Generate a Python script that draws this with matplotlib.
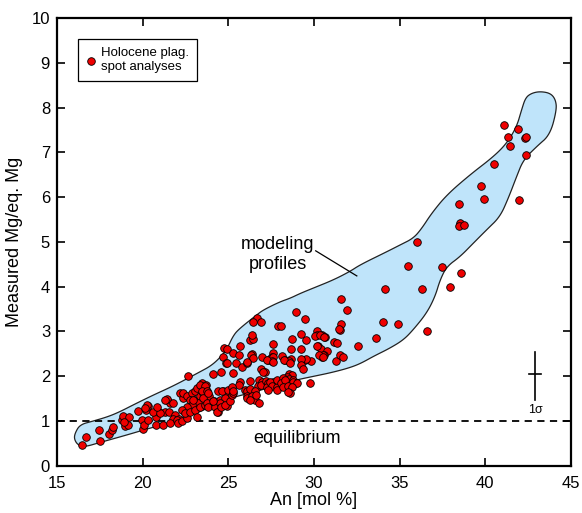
import numpy as np
import matplotlib
matplotlib.use("Agg")
import matplotlib.pyplot as plt

plt.rcParams["font.family"] = ["Liberation Sans", "DejaVu Sans"]

# plagioclase spot analyses: An [mol %] and measured Mg / equilibrium Mg
an = [
    16.44, 16.67, 17.51, 17.47, 18.04, 18.2, 18.25, 18.78, 18.87, 19.2, 18.99, 19.16, 19.75, 19.94, 18.91,
    20.2, 20.29, 20.04, 20.08, 20.3, 20.76, 20.76, 21.2, 20.97, 21.44, 21.6, 21.3, 21.55, 21.89, 22.12,
    21.79, 21.6, 21.99, 22.08, 20.62, 21.01, 21.4, 21.75, 20.27, 20.14, 21.3, 20.82, 22.18, 22.34, 22.28, 22.57,
    22.63, 22.38, 22.57, 22.86, 23.06, 23.19, 22.77, 23.0, 23.35, 23.54, 23.70, 23.25, 22.86, 22.57, 22.28,
    22.47, 22.77, 23.06, 23.35, 23.64, 23.78, 23.44, 23.7, 23.35, 23.64, 23.44, 23.78, 23.89, 23.5, 23.74,
    23.15, 22.96, 23.84, 23.84,
    24.17, 24.22, 24.42, 24.52, 24.71, 24.9, 24.81, 24.52, 24.9, 24.32, 24.56, 24.81, 25.1, 24.12, 24.42,
    24.61, 25.0, 25.2, 25.25, 24.08, 24.57, 24.71, 24.86, 24.75, 24.9, 24.9,
    25.29, 25.64, 25.45, 25.78, 25.29, 25.68, 25.64, 25.2, 25.29, 25.97, 25.68, 26.07, 26.07, 26.11, 26.07,
    26.69, 26.46, 26.91, 26.27, 26.46, 26.38, 26.37, 26.3, 26.42, 26.95, 26.11, 26.91, 26.27, 26.81, 26.95,
    26.75, 26.89, 26.27, 26.56, 26.37, 26.56, 26.27, 26.62, 26.81,
    27.92, 27.63, 27.34, 27.47, 27.63, 27.53, 27.59, 27.53, 27.28, 27.63, 27.14, 27.0, 27.2, 27.34, 27.59,
    27.82, 27.24, 27.43, 27.53, 27.82, 27.34, 27.86, 27.82,
    28.06, 28.97, 28.74, 28.66, 28.12, 28.66, 28.31, 28.56, 28.25, 28.6, 28.56, 28.7, 28.44, 28.56, 28.21,
    28.41, 28.76, 28.95, 28.17, 28.06, 28.31, 28.79, 28.99, 28.21, 28.5, 28.7, 28.6, 28.5,
    29.48, 29.52, 29.22, 29.24, 29.48, 29.81, 29.53, 29.22, 29.24, 29.34, 29.77,
    30.19, 30.45, 30.19, 30.64, 30.06, 30.35, 30.59, 30.25, 30.39, 30.74, 30.59, 30.45, 30.16, 30.51, 30.31,
    30.55, 31.52, 31.58, 31.91, 31.58, 31.48, 31.14, 31.33, 31.29, 31.52, 31.68,
    32.59, 33.6, 34.01, 34.92, 36.58, 34.13, 36.31, 37.96, 35.47, 37.48, 38.58, 36.02, 38.45, 38.54, 38.47,
    38.78, 39.77, 39.93, 41.95, 40.53, 41.08, 41.93, 41.33, 42.32, 42.40, 41.46, 42.38,
]
mg_ratio = [
    0.47, 0.65, 0.56, 0.79, 0.71, 0.8, 0.86, 1.03, 1.12, 1.09, 0.88, 0.90, 1.23, 1.03, 0.97,
    1.25, 1.34, 0.82, 0.92, 1.02, 1.09, 0.92, 0.92, 1.21, 1.47, 1.40, 1.21, 1.21, 1.14, 1.05,
    1.04, 0.95, 1.03, 0.95, 1.21, 1.19, 1.49, 1.40, 1.36, 1.29, 1.47, 1.32, 1.62, 1.51, 0.99, 1.06,
    2.01, 1.62, 1.55, 1.62, 1.66, 1.73, 1.47, 1.47, 1.55, 1.62, 1.70, 1.40, 1.36, 1.32, 1.25,
    1.18, 1.21, 1.25, 1.32, 1.36, 1.47, 1.85, 1.81, 1.81, 1.79, 1.66, 1.66, 1.55, 1.51, 1.40,
    1.10, 1.47, 1.32, 1.62,
    1.44, 1.32, 1.21, 1.47, 1.66, 1.62, 1.51, 1.40, 1.34, 1.21, 1.32, 1.36, 1.44, 1.44, 1.66,
    1.68, 1.70, 1.58, 1.62, 2.05, 2.10, 2.44, 2.29, 2.63, 2.60, 2.29,
    2.51, 2.48, 2.29, 2.20, 2.08, 1.88, 1.81, 1.76, 1.66, 1.70, 2.67, 2.30, 1.66, 1.55, 1.51,
    3.30, 3.22, 3.22, 2.81, 2.83, 2.92, 2.49, 2.47, 2.40, 2.44, 2.31, 2.17, 1.90, 1.92, 1.88,
    1.79, 1.81, 1.71, 1.68, 1.55, 1.47, 1.47, 1.57, 1.40,
    3.13, 2.73, 2.37, 2.40, 2.52, 2.44, 2.43, 2.33, 2.37, 2.31, 2.09, 2.10, 1.90, 1.85, 1.88,
    1.85, 1.76, 1.88, 1.79, 1.77, 1.70, 1.70, 1.92,
    3.13, 3.43, 2.83, 2.61, 2.46, 2.38, 2.37, 2.33, 2.37, 2.29, 2.05, 2.03, 1.99, 1.94, 1.96,
    1.83, 1.92, 1.86, 1.81, 1.86, 1.92, 1.88, 1.86, 1.76, 1.79, 1.76, 1.62, 1.64,
    3.27, 2.80, 2.95, 2.61, 2.37, 2.33, 2.38, 2.38, 2.25, 2.17, 1.85,
    3.02, 2.93, 2.91, 2.87, 2.90, 2.92, 2.87, 2.68, 2.60, 2.57, 2.48, 2.44, 2.67, 2.48, 2.48,
    2.43, 3.04, 3.72, 3.48, 3.16, 3.06, 2.76, 2.75, 2.33, 2.48, 2.44,
    2.67, 2.85, 3.21, 3.17, 3.00, 3.94, 3.94, 4.00, 4.47, 4.44, 4.30, 4.99, 5.84, 5.42, 5.36,
    5.37, 6.25, 5.96, 5.93, 6.75, 7.60, 7.53, 7.35, 7.31, 7.35, 7.15, 6.93,
]

# envelope of the modeling profiles (upper edge, then lower edge back)
env_an = [16.05, 16.34, 17.12, 18.0, 18.68, 19.5, 20.62, 21.6, 22.57, 23.35, 23.93, 24.4, 24.9,
          25.3, 25.7, 26.66, 27.04, 28.0, 28.6, 29.2, 29.97, 31.13, 32.1, 32.7, 34.25, 35.02,
          35.8, 36.29, 36.87, 37.75, 39.11, 40.47, 41.25, 41.83, 42.12, 42.35, 42.7, 43.2, 43.8,
          44.1, 44.17, 43.78, 43.0, 42.22, 41.83, 41.35, 40.86, 40.08, 39.3, 38.53, 37.75,
          37.36, 37.07, 36.58, 35.8, 35.22, 34.4, 33.5, 32.7, 32.0, 31.0, 30.0, 29.0, 28.0,
          27.0, 26.2, 25.2, 24.3, 23.3, 22.0, 20.5, 19.0, 17.5, 16.6, 16.2, 16.0]
env_mg = [0.73, 0.92, 1.0, 1.1, 1.21, 1.37, 1.58, 1.75, 1.94, 2.10, 2.22, 2.37, 2.59,
          2.92, 3.08, 3.37, 3.48, 3.66, 3.74, 3.85, 3.97, 4.15, 4.34, 4.49, 4.78, 4.93,
          5.08, 5.30, 5.64, 6.05, 6.50, 6.90, 7.20, 7.57, 7.95, 8.22, 8.32, 8.36, 8.32,
          8.18, 7.95, 7.39, 7.13, 6.83, 6.46, 5.98, 5.56, 5.27, 4.97, 4.67, 4.45,
          4.15, 3.78, 3.41, 3.04, 2.81, 2.62, 2.45, 2.28, 2.18, 2.08, 2.0, 1.92, 1.82,
          1.70, 1.62, 1.52, 1.38, 1.2, 1.0, 0.85, 0.68, 0.52, 0.42, 0.47, 0.6]


def chaikin(xs, ys, n=3):
    pts = np.column_stack([xs, ys])
    for _ in range(n):
        nxt = np.roll(pts, -1, axis=0)
        q = 0.75 * pts + 0.25 * nxt
        r = 0.25 * pts + 0.75 * nxt
        pts = np.empty((2 * len(q), 2))
        pts[0::2] = q
        pts[1::2] = r
    return pts[:, 0], pts[:, 1]


fig = plt.figure(figsize=(5.82, 5.13), dpi=100)
ax = fig.add_axes([0.098, 0.092, 0.883, 0.873])

sx, sy = chaikin(env_an, env_mg)
ax.fill(sx, sy, facecolor="#bfe4fa", edgecolor="#222222", linewidth=0.9, zorder=1)

ax.axhline(1, color="black", linestyle=(0, (4, 3)), linewidth=1.3, zorder=2)

ax.scatter(an, mg_ratio, s=30, c="#ee0000", edgecolors="black", linewidths=0.6, zorder=3,
           label="Holocene plag.\nspot analyses")

# 1 sigma error bar
ax.plot([42.9, 42.9], [1.47, 2.54], color="black", linewidth=1.2)
ax.plot([42.55, 43.25], [2.05, 2.05], color="black", linewidth=1.2)
ax.text(42.9, 1.38, "1σ", ha="center", va="top", fontsize=9)

ax.text(27.9, 4.72, "modeling\nprofiles", ha="center", va="center", fontsize=13, linespacing=1.25)
ax.plot([30.1, 32.5], [4.80, 4.24], color="black", linewidth=0.9)
ax.text(29.0, 0.62, "equilibrium", ha="center", va="center", fontsize=13)

ax.set_xlim(15, 45)
ax.set_ylim(0, 10)
ax.set_xticks(range(15, 46, 5))
ax.set_yticks(range(0, 11))
ax.tick_params(direction="in", length=6, width=1.2, top=True, right=True, labelsize=12)
ax.tick_params(axis="x", pad=7)
ax.tick_params(axis="y", pad=5)
for s in ax.spines.values():
    s.set_linewidth(1.6)
ax.set_xlabel("An [mol %]", fontsize=13, labelpad=1)
ax.set_ylabel("Measured Mg/eq. Mg", fontsize=13, labelpad=6)

leg = ax.legend(loc="upper left", bbox_to_anchor=(0.04, 0.953), borderaxespad=0, fancybox=False,
                edgecolor="black", fontsize=9.5, handlelength=0.8, handletextpad=0.4,
                borderpad=0.6, framealpha=1, labelspacing=0.2)
leg.get_frame().set_linewidth(0.9)

fig.savefig("out.png", dpi=100)
